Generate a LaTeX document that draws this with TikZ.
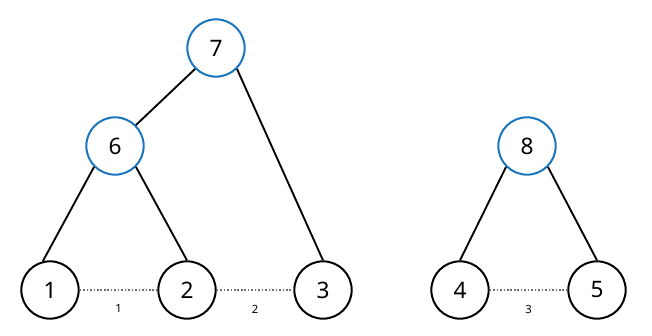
\documentclass[tikz,border=0pt]{standalone}
\usepackage{fontspec}
\setmainfont{Noto Sans}
\usepackage{tikz}
\usetikzlibrary{positioning}
\definecolor{mergecol}{HTML}{1B75BC}
\definecolor{linkcol}{HTML}{707070}

\begin{document}
\begin{tikzpicture}[x=0.75pt, y=0.75pt,
  leaf/.style={draw, circle, line width=1.5pt, minimum size=43pt, inner sep=0pt,
               font=\fontsize{17}{19}\selectfont},
  merged/.style={leaf, draw=mergecol},
  edge/.style={line width=1.4pt},
  link/.style={linkcol, line width=1.2pt, dash pattern=on 1.2pt off 1.4pt},
  wt/.style={font=\fontsize{8.5}{10}\selectfont, inner sep=0pt}
]
  \useasboundingbox (0,0) rectangle (652,335);
  \node[leaf] (n1) at (50,45) {1};
  \node[leaf] (n2) at (187,45) {2};
  \node[leaf] (n3) at (323,45) {3};
  \node[leaf] (n4) at (460,45) {4};
  \node[leaf] (n5) at (597,45) {5};
  \node[merged] (n6) at (115,189) {6};
  \node[merged] (n7) at (216,287) {7};
  \node[merged] (n8) at (527,189) {8};

  \draw[edge] (n7.south west) -- (n6.north east);
  \draw[edge] (n7.south east) -- (n3.north);
  \draw[edge] (n6.south west) -- (n1.104);
  \draw[edge] (n6.south east) -- (n2.north);
  \draw[edge] (n8.south west) -- (n4.north);
  \draw[edge] (n8.south east) -- (n5.north);

  \draw[link] (n1) -- (n2) node[midway, below=10.5pt, wt, text=black] (w1) {1};
  \draw[link] (n2) -- (n3) node[midway, below=10.5pt, wt, text=black] (w2) {2};
  \draw[link] (n4) -- (n5) node[midway, below=10.5pt, wt, text=black] (w3) {3};
\end{tikzpicture}
\end{document}
